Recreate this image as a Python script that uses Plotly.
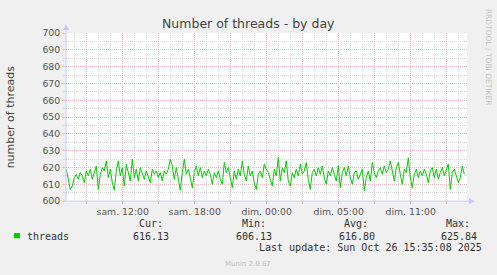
import plotly.graph_objects as go

# ---- data ----
start_hour = -4.70          # hours relative to "sam. 12:00"
step_hours = 1 / 6          # 10 minute samples

threads = [
    619, 612, 607, 609, 614, 616, 613, 617, 615, 611,
    618, 615, 619, 613, 617, 621, 607, 616, 620, 618,
    624, 614, 619, 611, 606.5, 618, 624, 615, 620, 609,
    622, 616, 612, 625, 614, 619, 612, 620, 616, 613,
    618, 615, 611, 619, 616, 618, 614, 617, 612, 618,
    616, 619, 625, 621, 613, 620, 612, 606.5, 617, 625,
    616, 619, 614, 608, 617, 621, 615, 620, 614, 618,
    615, 619, 616, 610, 617, 614, 618, 613, 610, 623,
    617, 620, 614, 608, 618, 613, 619, 615, 624, 616,
    612, 621, 615, 618, 611, 607, 616, 618, 614, 622,
    619, 617, 613, 609, 619, 615, 626, 612, 620, 617,
    624, 612, 609, 617, 614, 619, 615, 622, 616, 618,
    623, 613, 607, 617, 619, 615, 620, 616, 621, 614,
    610, 618, 615, 620, 616, 612, 621, 608, 617, 620,
    615, 621, 614, 610, 617, 618, 613, 616, 619, 606.13,
    614, 618, 612, 623, 617, 614, 618, 620, 616, 621,
    617, 619, 624, 618, 612, 620, 623, 616, 610, 619,
    617, 625.84, 614, 608, 616, 619, 614, 618, 615, 619,
    616, 611, 618, 620, 614, 619, 613, 617, 620, 615,
    618, 622, 607, 617, 619, 615, 611, 614, 621, 616.13,
]
times = [start_hour + i * step_hours for i in range(len(threads))]

x_major = [-3, 0, 3, 6, 9, 12, 15, 18, 21, 24, 27]
x_labels = ["", "sam. 12:00", "", "sam. 18:00", "", "dim. 00:00",
            "", "dim. 05:00", "", "dim. 11:00", ""]
y_ticks = [600, 610, 620, 630, 640, 650, 660, 670, 680, 690, 700]

legend_heads = ["Cur:", "Min:", "Avg:", "Max:"]
legend_vals = ["616.13", "606.13", "616.80", "625.84"]
series_name = "threads"
last_update = "Last update: Sun Oct 26 15:35:08 2025"
title_text = "Number of threads - by day"
ytitle_text = "number of threads"

# ---- layout geometry (pixels) ----
W, H = 497, 275
L, R, T, B = 66, 467, 28.3, 203.3


def px(x):
    return x / W


def py(y):
    return 1 - y / H


fig = go.Figure()
fig.add_trace(go.Scatter(x=times, y=threads, mode="lines",
                         line=dict(color="#00cc00", width=1),
                         hoverinfo="skip", showlegend=False))

RED = "#f2b6b6"
GRAY = "#dadada"
AXIS = "#c8c8ff"
TICKFONT = dict(family="DejaVu Sans", size=9.3, color="#555555")

fig.update_layout(
    width=W, height=H,
    margin=dict(l=0, r=0, t=0, b=0),
    paper_bgcolor="#f0f0f0",
    plot_bgcolor="#ffffff",
    showlegend=False,
    xaxis=dict(
        domain=[px(L), px(R)],
        range=[(L - 122.7) / 12, (R - 122.7) / 12],
        tickmode="array", tickvals=x_major, ticktext=x_labels,
        showgrid=True, gridcolor=RED, griddash="1px,1px", gridwidth=1,
        ticks="outside", ticklen=2, tickcolor=RED,
        minor=dict(tickmode="linear", tick0=0, dtick=1, showgrid=True,
                   gridcolor=GRAY, griddash="1px,1px", gridwidth=1,
                   ticks=""),
        zeroline=False, showline=False,
        tickfont=TICKFONT, fixedrange=True,
    ),
    yaxis=dict(
        domain=[py(B), py(T)],
        range=[600, 700],
        tickmode="array", tickvals=y_ticks,
        ticktext=[str(v) for v in y_ticks],
        showgrid=True, gridcolor=RED, griddash="1px,1px", gridwidth=1,
        ticks="outside", ticklen=3, tickcolor=RED,
        minor=dict(tickmode="linear", tick0=600, dtick=5, showgrid=True,
                   gridcolor=GRAY, griddash="1px,1px", gridwidth=1,
                   ticks="outside", ticklen=2, tickcolor=GRAY),
        zeroline=False, showline=False,
        tickfont=TICKFONT, fixedrange=True,
    ),
)

shapes = [
    # axis lines
    dict(type="line", xref="paper", yref="paper",
         x0=px(L), x1=px(L), y0=py(B + 0.5), y1=py(22),
         line=dict(color=AXIS, width=1)),
    dict(type="line", xref="paper", yref="paper",
         x0=px(L - 2), x1=px(R + 3), y0=py(B), y1=py(B),
         line=dict(color=AXIS, width=1)),
    # arrows
    dict(type="path", xref="paper", yref="paper",
         path=f"M {px(L-3)} {py(25)} L {px(L+3)} {py(25)} L {px(L)} {py(19)} Z",
         fillcolor=AXIS, line=dict(color=AXIS, width=0)),
    dict(type="path", xref="paper", yref="paper",
         path=f"M {px(R+2)} {py(B-3)} L {px(R+2)} {py(B+3)} L {px(R+8)} {py(B)} Z",
         fillcolor=AXIS, line=dict(color=AXIS, width=0)),
    # legend colour box
    dict(type="rect", xref="paper", yref="paper",
         x0=px(14), x1=px(20), y0=py(242), y1=py(236.5),
         fillcolor="#00cc00", line=dict(width=0)),
]
fig.update_layout(shapes=shapes)

MONO = dict(family="DejaVu Sans Mono", size=10, color="#333333")
ann = []


def text(s, x, y, xanchor="center", font=MONO, angle=0):
    ann.append(dict(text=s, xref="paper", yref="paper", x=px(x), y=py(y),
                    xanchor=xanchor, yanchor="middle", showarrow=False,
                    font=font, textangle=angle, borderpad=0, borderwidth=0))


text(title_text, 248.5, 18, font=dict(family="DejaVu Sans", size=12.5, color="#444444"))
text(ytitle_text, 10, 116, font=dict(family="DejaVu Sans", size=11, color="#444444"), angle=-90)
text("RRDTOOL / TOBI OETIKER", 488, 53,
     font=dict(family="DejaVu Sans", size=7.5, color="#c4c4c4"), angle=90)

head_right = [163, 266, 368, 470]
val_right = [169, 272, 375, 477]
for h, xr in zip(legend_heads, head_right):
    text(h, xr, 227, xanchor="right")
for v, xr in zip(legend_vals, val_right):
    text(v, xr, 240, xanchor="right")
text(series_name, 27, 240, xanchor="left")
text(last_update, 482, 252, xanchor="right")
text("Munin 2.0.67", 248, 269,
     font=dict(family="DejaVu Sans", size=7, color="#bdbdbd"))

fig.update_layout(annotations=ann)
fig.write_html("out.html", config={"displayModeBar": False})
